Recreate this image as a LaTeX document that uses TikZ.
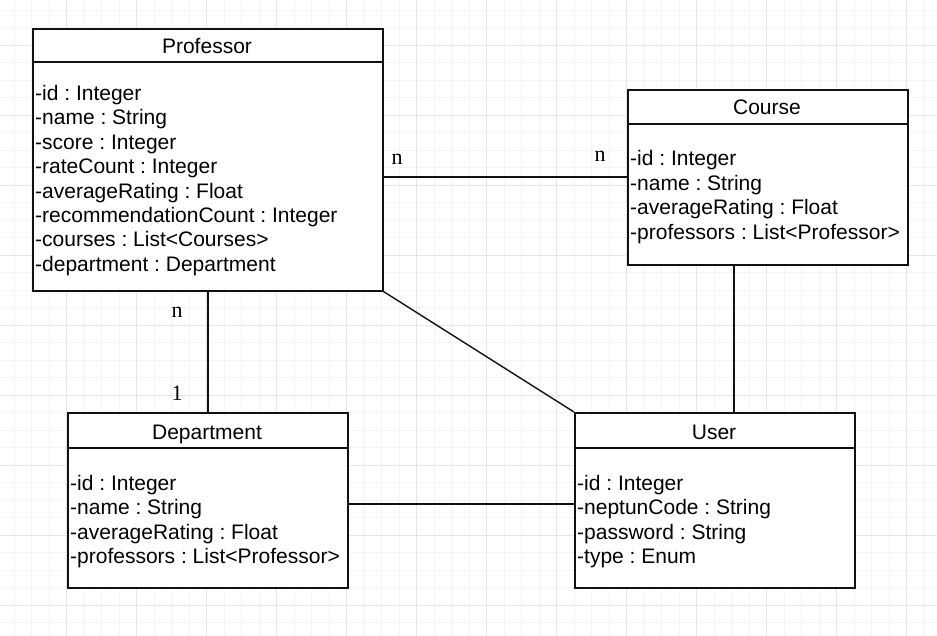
\documentclass[tikz,border=0pt]{standalone}
\usepackage{fontspec}
\setmainfont{Liberation Sans}
\newfontfamily\serifn{Liberation Serif}
\definecolor{gridminor}{HTML}{F4F4F4}
\definecolor{gridmajor}{HTML}{E6E6E6}
\definecolor{ink}{HTML}{111111}
\frenchspacing
\begin{document}
\begin{tikzpicture}[x=1pt,y=-1pt,
  umlbox/.style={draw=ink,line width=1.6pt,fill=white,rectangle,inner sep=0pt,anchor=north west},
  sepline/.style={draw=ink,line width=1.6pt},
  conn/.style={draw=ink,line width=1.4pt},
  ttl/.style={font=\fontsize{21}{24}\selectfont,inner sep=0pt,anchor=base},
  attr/.style={font=\fontsize{21}{24}\selectfont,inner sep=0pt,anchor=base west},
  mult/.style={font=\serifn\fontsize{22}{26}\selectfont,inner sep=0pt,anchor=base}]
\useasboundingbox (0,0) rectangle (937,636);
% grid
\foreach \k in {0,...,53} {\draw[gridminor,line width=0.6pt] ({14.2+17.5*\k},0) -- ({14.2+17.5*\k},636);}
\foreach \k in {0,...,36} {\draw[gridminor,line width=0.6pt] (0,{10+17.5*\k}) -- (937,{10+17.5*\k});}
\foreach \k in {0,...,13} {\draw[gridmajor,line width=0.6pt] ({-3.3+70*\k},0) -- ({-3.3+70*\k},636);}
\foreach \k in {0,...,9} {\draw[gridmajor,line width=0.6pt] (0,{-25+70*\k}) -- (937,{-25+70*\k});}

% boxes
\node[umlbox,minimum width=350pt,minimum height=262pt] (prof) at (32,28) {};
\node[umlbox,minimum width=280pt,minimum height=175pt] (course) at (627,89) {};
\node[umlbox,minimum width=280pt,minimum height=175pt] (dept) at (67,412) {};
\node[umlbox,minimum width=280pt,minimum height=175pt] (user) at (574,412) {};

% header separators
\draw[sepline] (32,62) -- (382,62);
\draw[sepline] (627,124) -- (907,124);
\draw[sepline] (67,448) -- (347,448);
\draw[sepline] (574,448) -- (854,448);

% titles
\node[ttl] (profT) at (207,54) {Professor};
\node[ttl] (courseT) at (767,115) {Course};
\node[ttl] (deptT) at (207,439) {Department};
\node[ttl] (userT) at (714,439) {User};

% attributes
\foreach \t [count=\i] in {-id : Integer,-name : String,-score : Integer,-rateCount : Integer,-averageRating : Float,-recommendationCount : Integer,-courses : List<Courses>,-department : Department}
  {\node[attr] (pa\i) at (35,{100.3+24.45*(\i-1)}) {\t};}
\foreach \t [count=\i] in {-id : Integer,-name : String,-averageRating : Float,-professors : List<Professor>}
  {\node[attr] (ca\i) at (630,{166+24.5*(\i-1)}) {\t};}
\foreach \t [count=\i] in {-id : Integer,-name : String,-averageRating : Float,-professors : List<Professor>}
  {\node[attr] (da\i) at (70,{490+24.5*(\i-1)}) {\t};}
\foreach \t [count=\i] in {-id : Integer,-neptunCode : String,-password : String,-type : Enum}
  {\node[attr] (ua\i) at (577,{490+24.5*(\i-1)}) {\t};}

% connectors
\coordinate (pc1) at (382,177);
\coordinate (pc2) at (627,177);
\draw[conn] (pc1) -- (pc2);
\draw[conn] (prof.south) -- (dept.north);
\draw[conn] (prof.south east) -- (user.north west);
\draw[conn] (course.south -| 734,0) -- (user.north -| 734,0);
\coordinate (du1) at (349,504);
\coordinate (du2) at (574,504);
\draw[conn] (du1) -- (du2);

% multiplicities
\node[mult] (m1) at (397,165) {n};
\node[mult] (m2) at (600,161.7) {n};
\node[mult] (m3) at (177,317.3) {n};
\node[mult] (m4) at (177,400) {1};
\end{tikzpicture}
\end{document}
